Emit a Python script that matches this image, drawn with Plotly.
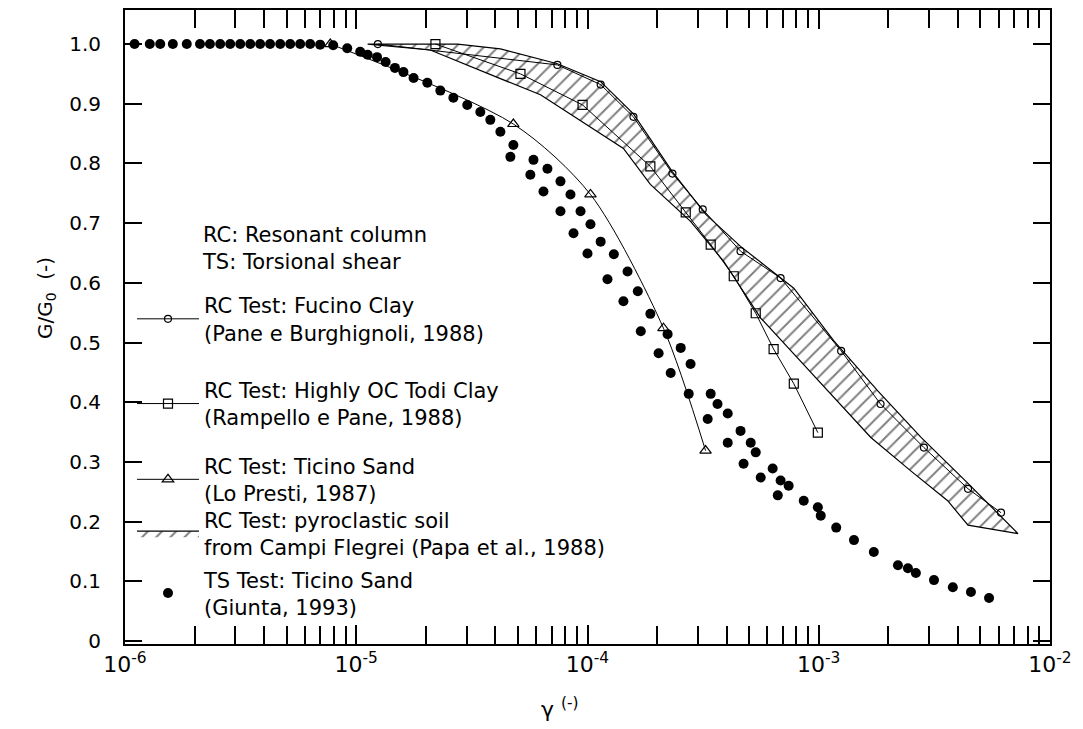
import plotly.graph_objects as go

# ---------------- data ----------------
# TS Test: Ticino Sand (Giunta, 1993)
ts_strain = [1.10e-6, 1.28e-6, 1.42e-6, 1.61e-6, 1.85e-6, 2.11e-6, 2.33e-6, 2.58e-6, 2.85e-6,
             3.15e-6, 3.48e-6, 3.84e-6, 4.24e-6, 4.69e-6, 5.18e-6, 5.72e-6, 6.32e-6, 6.98e-6,
             7.95e-6, 9.14e-6, 1.04e-5, 1.12e-5, 1.23e-5, 1.34e-5, 1.47e-5, 1.60e-5, 1.77e-5,
             2.03e-5, 2.31e-5, 2.63e-5, 3.02e-5, 3.44e-5, 3.80e-5, 4.20e-5, 4.78e-5, 4.64e-5,
             5.84e-5, 6.71e-5, 5.66e-5, 6.45e-5, 7.64e-5, 8.44e-5, 7.64e-5, 9.33e-5, 1.03e-4,
             8.70e-5, 1.14e-4, 1.00e-4, 1.30e-4, 1.49e-4, 1.22e-4, 1.65e-4, 1.43e-4, 1.87e-4,
             1.70e-4, 2.22e-4, 2.03e-4, 2.53e-4, 2.79e-4, 2.29e-4, 2.74e-4, 3.41e-4, 3.65e-4,
             4.04e-4, 3.31e-4, 4.59e-4, 5.08e-4, 4.04e-4, 5.34e-4, 4.73e-4, 6.32e-4, 6.84e-4,
             5.61e-4, 7.41e-4, 6.65e-4, 8.61e-4, 9.91e-4, 1.02e-3, 1.19e-3, 1.42e-3, 1.73e-3,
             2.20e-3, 2.43e-3, 2.63e-3, 3.15e-3, 3.80e-3, 4.55e-3, 5.45e-3]
ts_ratio = [1.0, 1.0, 1.0, 1.0, 1.0, 1.0, 1.0, 1.0, 1.0,
            1.0, 1.0, 1.0, 1.0, 1.0, 1.0, 1.0, 1.0, 0.999,
            0.998, 0.993, 0.987, 0.982, 0.978, 0.970, 0.960, 0.953, 0.943,
            0.935, 0.922, 0.910, 0.898, 0.886, 0.873, 0.853, 0.831, 0.811,
            0.806, 0.791, 0.781, 0.753, 0.770, 0.748, 0.720, 0.720, 0.698,
            0.683, 0.669, 0.649, 0.648, 0.619, 0.606, 0.586, 0.569, 0.548,
            0.519, 0.514, 0.482, 0.491, 0.464, 0.449, 0.414, 0.414, 0.397,
            0.381, 0.372, 0.352, 0.332, 0.332, 0.316, 0.297, 0.289, 0.269,
            0.274, 0.260, 0.244, 0.235, 0.224, 0.210, 0.190, 0.169, 0.149,
            0.127, 0.122, 0.114, 0.102, 0.090, 0.082, 0.072]

# RC Test: Fucino Clay (Pane e Burghignoli, 1988)
fucino_strain = [1.24e-5, 7.41e-5, 1.14e-4, 1.58e-4, 2.33e-4, 3.15e-4, 4.59e-4, 6.84e-4,
                 1.25e-3, 1.85e-3, 2.85e-3, 4.42e-3, 6.14e-3]
fucino_ratio = [1.0, 0.965, 0.932, 0.878, 0.783, 0.723, 0.653, 0.608,
                0.486, 0.397, 0.324, 0.255, 0.215]

# RC Test: Highly OC Todi Clay (Rampello e Pane, 1988)
todi_strain = [2.20e-5, 5.13e-5, 9.52e-5, 1.87e-4, 2.66e-4, 3.41e-4, 4.29e-4, 5.34e-4,
               6.38e-4, 7.80e-4, 9.91e-4]
todi_ratio = [1.0, 0.950, 0.898, 0.795, 0.718, 0.664, 0.611, 0.549,
              0.489, 0.431, 0.349]

# RC Test: Ticino Sand (Lo Presti, 1987)
ticino_strain = [7.72e-6, 4.78e-5, 1.03e-4, 2.13e-4, 3.24e-4]
ticino_ratio = [1.0, 0.866, 0.748, 0.524, 0.319]

# RC Test: pyroclastic soil from Campi Flegrei (Papa et al., 1988) - band limits
band_upper_strain = [1.12e-5, 2.74e-5, 4.20e-5, 7.41e-5, 1.14e-4, 1.58e-4, 2.33e-4, 3.24e-4,
                     4.59e-4, 7.80e-4, 1.16e-3, 1.80e-3, 2.77e-3, 4.42e-3, 7.27e-3]
band_upper_ratio = [1.0, 1.0, 0.992, 0.967, 0.937, 0.883, 0.786, 0.715,
                    0.661, 0.591, 0.503, 0.419, 0.341, 0.264, 0.180]
band_lower_strain = [1.12e-5, 2.09e-5, 4.20e-5, 6.26e-5, 9.06e-5, 1.43e-4, 1.87e-4, 2.79e-4,
                     3.88e-4, 5.61e-4, 7.80e-4, 1.09e-3, 1.68e-3, 2.50e-3, 3.61e-3, 4.42e-3]
band_lower_ratio = [1.0, 0.990, 0.942, 0.915, 0.875, 0.825, 0.765, 0.703,
                    0.636, 0.541, 0.481, 0.419, 0.341, 0.285, 0.235, 0.194]

# axis ticks
x_tickvals = [1e-6, 1e-5, 1e-4, 1e-3, 1e-2]
x_ticktext = ["10<sup>-6</sup>", "10<sup>-5</sup>", "10<sup>-4</sup>", "10<sup>-3</sup>", "10<sup>-2</sup>"]
y_tickvals = [0, 0.1, 0.2, 0.3, 0.4, 0.5, 0.6, 0.7, 0.8, 0.9, 1.0]
y_ticktext = ["0", "0.1", "0.2", "0.3", "0.4", "0.5", "0.6", "0.7", "0.8", "0.9", "1.0"]

names = {
    "fucino": "RC Test: Fucino Clay<br>(Pane e Burghignoli, 1988)",
    "todi": "RC Test: Highly OC Todi Clay<br>(Rampello e Pane, 1988)",
    "ticino": "RC Test: Ticino Sand<br>(Lo Presti, 1987)",
    "band": "RC Test: pyroclastic soil<br>from Campi Flegrei (Papa et al., 1988)",
    "ts": "TS Test: Ticino Sand<br>(Giunta, 1993)",
}

# ---------------- figure ----------------
FONT = "DejaVu Sans"
W, H = 1083, 729
ML, MR, MT, MB = 125, 33, 8, 85
PH = H - MT - MB


def py2paper(py):
    return (H - MB - py) / PH


def px2paper(px):
    return (px - ML) / (W - ML - MR)


fig = go.Figure()

band_x = band_upper_strain + band_lower_strain[::-1]
band_y = band_upper_ratio + band_lower_ratio[::-1]
fig.add_trace(go.Scatter(
    x=band_x, y=band_y, mode="lines", fill="toself",
    fillcolor="rgba(0,0,0,0)",
    fillpattern=dict(shape="/", fgcolor="black", bgcolor="rgba(0,0,0,0)", size=10, solidity=0.2),
    line=dict(color="black", width=1.2),
    name=names["band"], legend="legend4"))

fig.add_trace(go.Scatter(
    x=fucino_strain, y=fucino_ratio, mode="lines+markers",
    line=dict(color="black", width=1),
    marker=dict(symbol="circle-open", size=7, color="black", line=dict(width=1.2)),
    name=names["fucino"], legend="legend"))

fig.add_trace(go.Scatter(
    x=todi_strain, y=todi_ratio, mode="lines+markers",
    line=dict(color="black", width=1),
    marker=dict(symbol="square-open", size=9, color="black", line=dict(width=1.2)),
    name=names["todi"], legend="legend2"))

fig.add_trace(go.Scatter(
    x=ticino_strain, y=ticino_ratio, mode="lines+markers",
    line=dict(color="black", width=1, shape="spline", smoothing=0.8),
    marker=dict(symbol="triangle-up-open", size=10, color="black", line=dict(width=1.2)),
    name=names["ticino"], legend="legend3"))

fig.add_trace(go.Scatter(
    x=ts_strain, y=ts_ratio, mode="markers",
    marker=dict(symbol="circle", size=10, color="black"),
    name=names["ts"], legend="legend5"))


def leg(ypx):
    return dict(x=px2paper(132), xanchor="left", y=py2paper(ypx), yanchor="middle",
                bgcolor="rgba(0,0,0,0)", borderwidth=0, visible=True,
                font=dict(family=FONT, size=21, color="black"),
                itemwidth=62, tracegroupgap=0)


axis_common = dict(
    showline=True, linecolor="black", linewidth=2, mirror="allticks",
    ticks="inside", tickcolor="black", tickwidth=2,
    showgrid=False, zeroline=False,
)

fig.update_layout(
    width=W, height=H,
    showlegend=True,
    margin=dict(l=ML, r=MR, t=MT, b=MB),
    paper_bgcolor="white", plot_bgcolor="white",
    font=dict(family=FONT, color="black"),
    xaxis=dict(type="log", range=[-6, -2], tickvals=x_tickvals, ticktext=x_ticktext,
               ticklen=19, tickfont=dict(family=FONT, size=22),
               minor=dict(ticks="inside", ticklen=18, tickwidth=1.5, tickcolor="black", dtick="D1"),
               **axis_common),
    yaxis=dict(range=[-0.005, 1.057], tickvals=y_tickvals, ticktext=y_ticktext,
               ticklen=17, tickfont=dict(family=FONT, size=20), ticklabelstandoff=18,
               **axis_common),
    legend=leg(318),
    legend2=leg(403),
    legend3=leg(479),
    legend4=leg(533),
    legend5=leg(593),
    annotations=[
        dict(text="RC: Resonant column<br>TS: Torsional shear", xref="paper", yref="paper",
             x=px2paper(200), y=py2paper(247), xanchor="left", yanchor="middle", align="left",
             showarrow=False, font=dict(family=FONT, size=21, color="black")),
        dict(text="G/G<sub>0</sub>  (-)", xref="paper", yref="paper",
             x=px2paper(46), y=py2paper(297), xanchor="center", yanchor="middle", textangle=-90,
             showarrow=False, font=dict(family=FONT, size=20, color="black")),
        dict(text="γ <sup>(-)</sup>", xref="paper", yref="paper",
             x=px2paper(560), y=py2paper(708), xanchor="center", yanchor="middle",
             showarrow=False, font=dict(family=FONT, size=22, color="black")),
    ],
)

fig.write_html("out.html")
